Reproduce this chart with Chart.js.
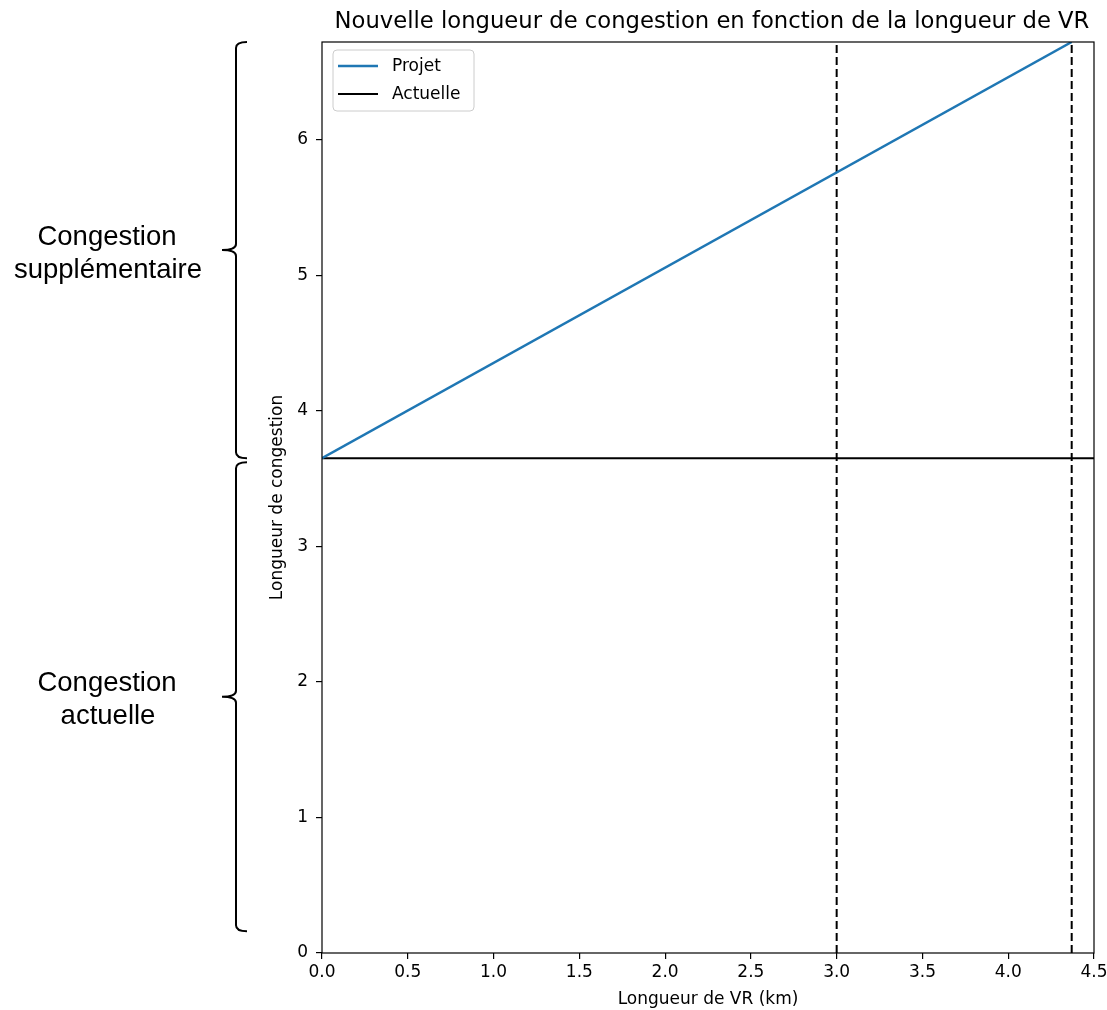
<!DOCTYPE html>
<html>
<head>
<meta charset="utf-8">
<script src="https://cdn.jsdelivr.net/npm/chart.js@4.4.1/dist/chart.umd.min.js"></script>
<style>
  body { margin: 0; background: #fff; }
  #wrap { width: 1107px; height: 1010px; }
</style>
</head>
<body>
<div id="wrap"><canvas id="myChart" width="1107" height="1010"></canvas></div>
<script>
// valeurs
var xProjet = [0, 4.37];
var yProjet = [3.65, 6.72];
var xActuelle = [0, 4.5];
var yActuelle = [3.65, 3.65];
var vrMarks = [3.0, 4.37];      // lignes verticales en pointillé
var xRange = [0, 4.5];
var yRange = [0, 6.72];
var braceLabels = [
    ["Congestion", "supplémentaire"],
    ["Congestion", "actuelle"]
];
var titleText = "Nouvelle longueur de congestion en fonction de la longueur de VR";

function pts(xs, ys) {
    return xs.map(function(x, i){ return {x: x, y: ys[i]}; });
}

var datasets = [
    {
        label: "Projet",
        data: pts(xProjet, yProjet),
        borderColor: "#1f77b4",
        borderWidth: 2.5
    },
    {
        label: "Actuelle",
        data: pts(xActuelle, yActuelle),
        borderColor: "#000000",
        borderWidth: 2
    }
];
vrMarks.forEach(function(v){
    datasets.push({
        label: "",
        inLegend: false,
        data: pts([v, v], yRange),
        borderColor: "#000000",
        borderWidth: 2,
        borderDash: [8, 4]
    });
});

// cadre, titre, legende et accolades
var extras = {
    id: "extras",
    afterDraw: function(chart) {
        var ctx = chart.ctx;
        var a = chart.chartArea;
        var ys = chart.scales.y;
        ctx.save();

        ctx.strokeStyle = "#000";
        ctx.lineWidth = 1.2;
        ctx.strokeRect(a.left, a.top, a.right - a.left, a.bottom - a.top);

        ctx.fillStyle = "#000";
        ctx.font = "22.7px 'DejaVu Sans'";
        ctx.textAlign = "center";
        ctx.textBaseline = "alphabetic";
        ctx.fillText(titleText, (a.left + a.right) / 2 + 4, 28);

        // legende
        var items = chart.data.datasets.filter(function(d){ return d.inLegend !== false; });
        var bx = a.left + 11, by = a.top + 8, bw = 141, bh = 61;
        ctx.beginPath();
        ctx.roundRect(bx, by, bw, bh, 4);
        ctx.fillStyle = "rgba(255,255,255,0.8)";
        ctx.fill();
        ctx.strokeStyle = "#cccccc";
        ctx.lineWidth = 1;
        ctx.stroke();
        ctx.font = "17px 'DejaVu Sans'";
        ctx.textAlign = "left";
        ctx.textBaseline = "middle";
        items.forEach(function(d, i){
            var y = by + 16 + i * 28;
            ctx.beginPath();
            ctx.moveTo(bx + 5, y);
            ctx.lineTo(bx + 45, y);
            ctx.strokeStyle = d.borderColor;
            ctx.lineWidth = d.borderWidth;
            ctx.stroke();
            ctx.fillStyle = "#000";
            ctx.fillText(d.label, bx + 59, y + 1);
        });

        // accolades
        var spans = [
            [ys.getPixelForValue(yRange[1]), ys.getPixelForValue(yActuelle[0])],
            [ys.getPixelForValue(yActuelle[0]) + 4, ys.getPixelForValue(0.16)]
        ];
        var xv = a.left - 86;
        ctx.strokeStyle = "#000";
        ctx.lineWidth = 2;
        spans.forEach(function(s, i){
            var t = s[0], b = s[1], m = (t + b) / 2;
            ctx.beginPath();
            ctx.moveTo(xv + 11, t);
            ctx.quadraticCurveTo(xv, t, xv, t + 6);
            ctx.lineTo(xv, m - 6);
            ctx.quadraticCurveTo(xv, m, xv - 14, m);
            ctx.quadraticCurveTo(xv, m, xv, m + 6);
            ctx.lineTo(xv, b - 6);
            ctx.quadraticCurveTo(xv, b, xv + 11, b);
            ctx.stroke();

            ctx.fillStyle = "#000";
            ctx.font = "27.5px 'Liberation Sans'";
            ctx.textAlign = "center";
            ctx.textBaseline = "middle";
            ctx.fillText(braceLabels[i][0], 107, m - 13);
            ctx.fillText(braceLabels[i][1], 108, m + 20);
        });

        ctx.restore();
    }
};

var ctx = document.getElementById("myChart");

var myChart = new Chart(ctx, {
    type: "line",
    data: { datasets: datasets },
    options: {
        responsive: false,
        animation: false,
        elements: { point: { radius: 0 }, line: { tension: 0 } },
        layout: { padding: { left: 263, right: 13, top: 42, bottom: 0 } },
        plugins: {
            legend: { display: false },
            title: { display: false },
            tooltip: { enabled: false }
        },
        scales: {
            x: {
                type: "linear",
                min: xRange[0],
                max: xRange[1],
                afterFit: function(s){ s.height = 57; s.paddingLeft = 0; s.paddingRight = 0; },
                border: { display: false },
                grid: { drawOnChartArea: false, color: "#000", tickLength: 6, lineWidth: 1.2 },
                ticks: {
                    stepSize: 0.5,
                    includeBounds: false,
                    padding: 3,
                    color: "#000",
                    font: { family: "DejaVu Sans", size: 17 },
                    callback: function(v){ return v.toFixed(1); }
                },
                title: {
                    display: true,
                    text: "Longueur de VR (km)",
                    color: "#000",
                    font: { family: "DejaVu Sans", size: 17 },
                    padding: { top: 0, bottom: 0 }
                }
            },
            y: {
                min: yRange[0],
                max: yRange[1],
                afterFit: function(s){ s.width = 59; s.paddingTop = 0; s.paddingBottom = 0; },
                border: { display: false },
                grid: { drawOnChartArea: false, color: "#000", tickLength: 6, lineWidth: 1.2 },
                ticks: {
                    stepSize: 1,
                    includeBounds: false,
                    padding: 8,
                    color: "#000",
                    font: { family: "DejaVu Sans", size: 17 }
                },
                title: {
                    display: true,
                    text: "Longueur de congestion",
                    color: "#000",
                    font: { family: "DejaVu Sans", size: 17 },
                    padding: { top: 4, bottom: 0 }
                }
            }
        }
    },
    plugins: [extras]
});
</script>
</body>
</html>
